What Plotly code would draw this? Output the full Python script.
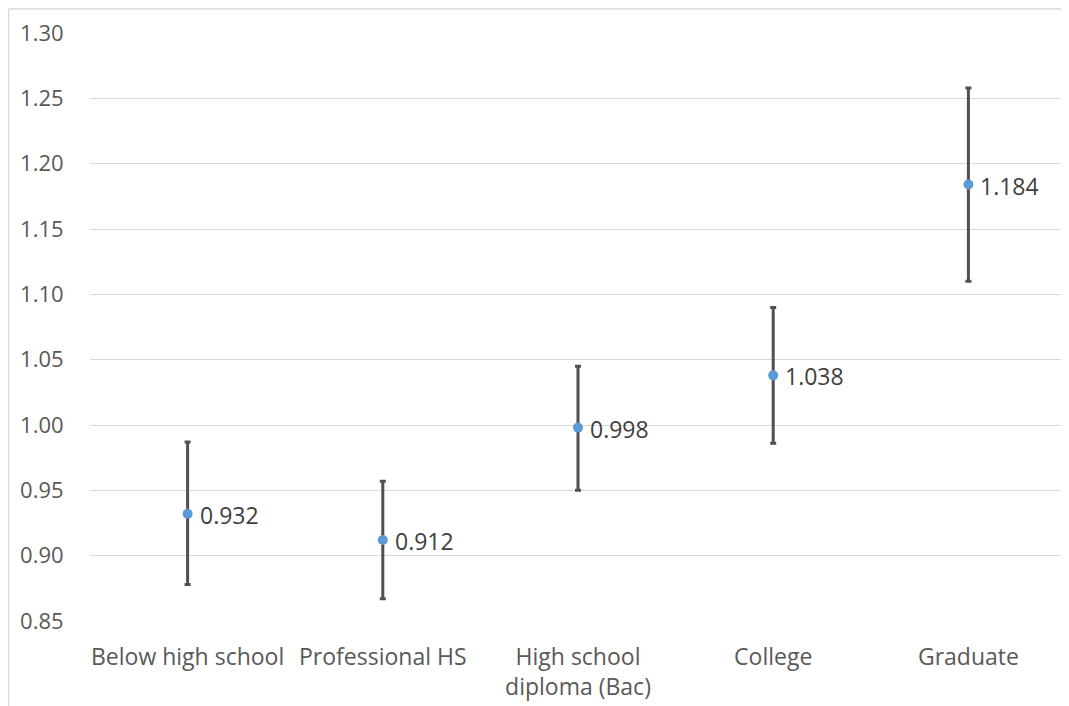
import plotly.graph_objects as go

categories = ["Below high school", "Professional HS", "High school<br>diploma (Bac)", "College", "Graduate"]
estimates = [0.932, 0.912, 0.998, 1.038, 1.184]
ci_lower = [0.878, 0.867, 0.950, 0.986, 1.110]
ci_upper = [0.987, 0.957, 1.045, 1.090, 1.258]
y_ticks = [0.85, 0.90, 0.95, 1.00, 1.05, 1.10, 1.15, 1.20, 1.25, 1.30]

err_plus = [u - e for u, e in zip(ci_upper, estimates)]
err_minus = [e - l for e, l in zip(estimates, ci_lower)]

# page has an 8px body margin, so the figure is shrunk accordingly
W, H = 1061, 698
ml, mr, mt, mb = 82, 3, 25, 85
font = "Open Sans"
txt_color = "#595959"

fig = go.Figure()
fig.add_trace(go.Scatter(
    x=categories, y=estimates, mode="markers",
    marker=dict(color="#5B9BD5", size=10),
    error_y=dict(type="data", symmetric=False, array=err_plus, arrayminus=err_minus,
                 color="#505050", thickness=3, width=3),
    showlegend=False, cliponaxis=False,
))

for c, v in zip(categories, estimates):
    fig.add_annotation(x=c, y=v, text=f"{v:.3f}", showarrow=False,
                       xanchor="left", yanchor="middle", xshift=10, yshift=-1,
                       font=dict(family=font, size=23, color="#404040"))

pw = W - ml - mr
ph = H - mt - mb
fig.add_shape(type="line", xref="paper", yref="paper",
              x0=(0.5 - ml) / pw, x1=1.05, y0=1 + (mt - 1) / ph, y1=1 + (mt - 1) / ph,
              line=dict(color="#D9D9D9", width=1.5))
fig.add_shape(type="line", xref="paper", yref="paper",
              x0=(0.5 - ml) / pw, x1=(0.5 - ml) / pw, y0=1 + (mt - 1) / ph, y1=-0.2,
              line=dict(color="#D9D9D9", width=1.5))

fig.update_layout(
    width=W, height=H,
    margin=dict(l=ml, r=mr, t=mt, b=mb, autoexpand=False),
    paper_bgcolor="white", plot_bgcolor="white",
    font=dict(family=font, size=21, color=txt_color),
    xaxis=dict(range=[-0.5, 4.5], automargin=False, showgrid=False, showline=False, zeroline=False,
               ticks="outside", ticklen=15, tickcolor="rgba(0,0,0,0)",
               tickfont=dict(family=font, size=23, color=txt_color)),
    yaxis=dict(range=[0.85, 1.30], automargin=False, tickvals=y_ticks,
               ticktext=[f"{t:.2f}" for t in y_ticks],
               showgrid=True, gridcolor="#D9D9D9", gridwidth=1.3, zeroline=False,
               showline=False, ticks="outside", ticklen=21, tickcolor="rgba(0,0,0,0)",
               tickfont=dict(family=font, size=22, color=txt_color)),
)

fig.write_html("out.html")
